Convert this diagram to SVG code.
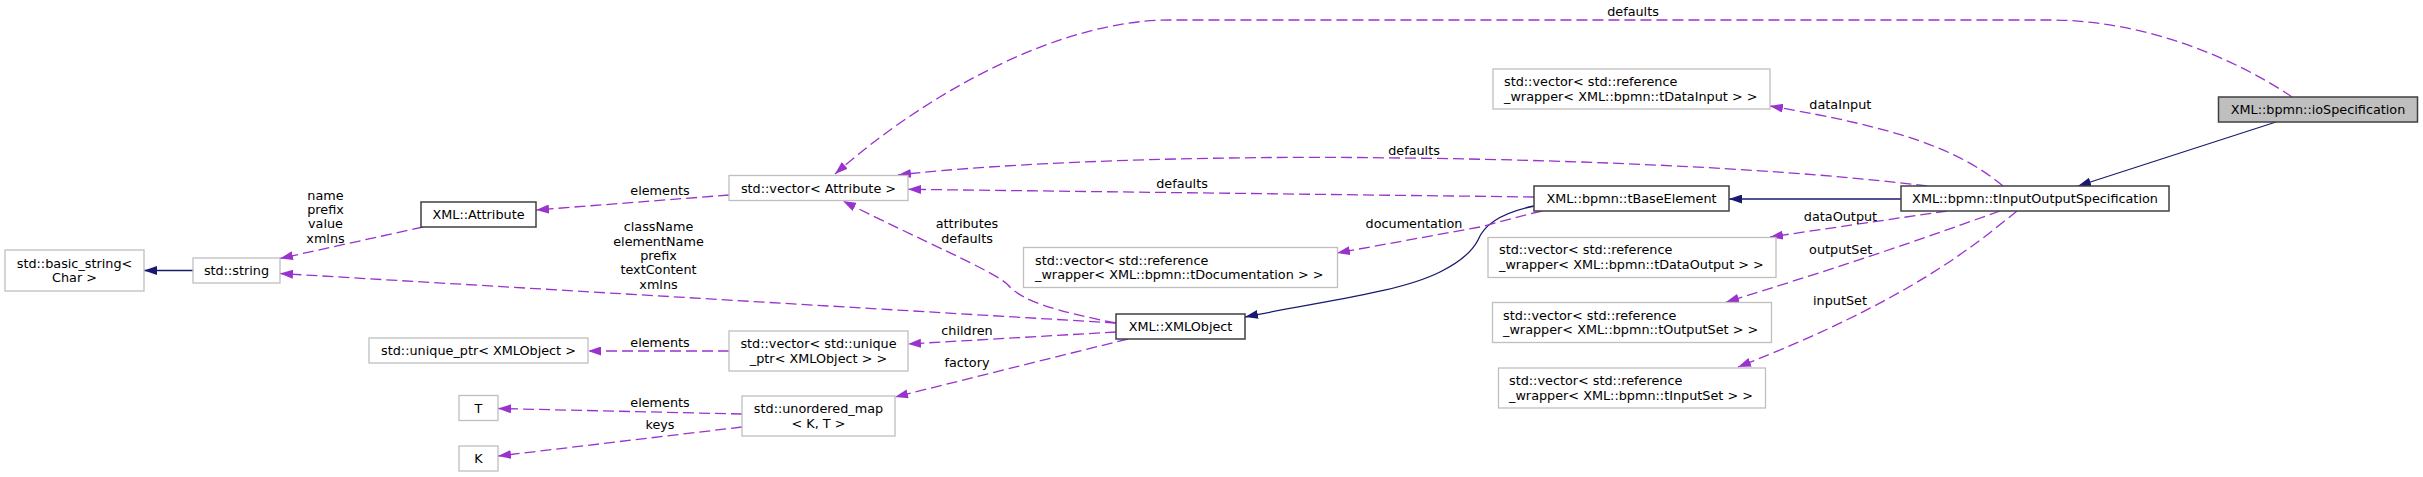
<svg xmlns="http://www.w3.org/2000/svg" width="2423" height="477" viewBox="0 0 2423 477">
<defs>
<marker id="ap" markerUnits="userSpaceOnUse" viewBox="0 0 13 9" refX="13" refY="4.5" markerWidth="13" markerHeight="9" orient="auto"><path d="M0,0 L13,4.5 L0,9 z" fill="#9a32cd"/></marker>
<marker id="an" markerUnits="userSpaceOnUse" viewBox="0 0 13 9" refX="13" refY="4.5" markerWidth="13" markerHeight="9" orient="auto"><path d="M0,0 L13,4.5 L0,9 z" fill="#191970"/></marker>
</defs>
<style>
text{font-family:"DejaVu Sans","Liberation Sans",sans-serif;font-size:12.8px;fill:#000;dominant-baseline:central;text-anchor:middle}
text.l{text-anchor:start}
.g{fill:#fff;stroke:#bfbfbf;stroke-width:1.3}
.b{fill:#fff;stroke:#404040;stroke-width:1.5}
.io{fill:#bfbfbf;stroke:#404040;stroke-width:1.5}
.e{fill:none;stroke:#9a32cd;stroke-width:1.3;stroke-dasharray:11,5;marker-end:url(#ap)}
.n{fill:none;stroke:#191970;stroke-width:1.3;marker-end:url(#an)}
</style>
<rect width="2423" height="477" fill="#fff"/>
<g id="edges">
<path class="n" d="M193,270.5 L144,270.5"/>
<path class="e" d="M423,227 L280,258.5"/>
<text x="325.5" y="195">name</text><text x="325.5" y="209.3">prefix</text><text x="325.5" y="223.6">value</text><text x="325.5" y="238">xmlns</text>
<path class="e" d="M1116,323 L280,273.5"/>
<text x="658.5" y="226.7">className</text><text x="658.5" y="241">elementName</text><text x="658.5" y="255.3">prefix</text><text x="658.5" y="269.8">textContent</text><text x="658.5" y="284.3">xmlns</text>
<path class="e" d="M1116,323 C1055,311 1022,301 1008,285 C996,272 920,240 843,201"/>
<text x="967" y="223.3">attributes</text><text x="967" y="238">defaults</text>
<path class="e" d="M1116,332 L908,344"/>
<text x="967" y="330">children</text>
<path class="e" d="M1128,339 L895,397"/>
<text x="967" y="362.3">factory</text>
<path class="e" d="M729,351 L588,351"/>
<text x="660" y="342.7">elements</text>
<path class="e" d="M742,414 L498,408.5"/>
<text x="660" y="402.7">elements</text>
<path class="e" d="M742,427 L498,456"/>
<text x="660" y="424">keys</text>
<path class="e" d="M729,195 L536,210"/>
<text x="660" y="190.7">elements</text>
<path class="n" d="M1534,206 C1505,212 1485,222 1478,240 C1472,252 1460,262 1440,272 C1400,292 1330,300 1245,317"/>
<path class="e" d="M1542,211 C1520,216 1500,222 1480,227 L1337,253"/>
<text x="1414" y="223.7">documentation</text>
<path class="e" d="M1534,197 L908,189.3"/>
<text x="1182" y="183.3">defaults</text>
<path class="e" d="M1927,186 C1800,170 1600,160 1400,158 C1200,155 1000,163 898,175"/>
<text x="1414" y="150.7">defaults</text>
<path class="e" d="M2292,97 C2230,55 2140,20 2050,20 L1170,20 C1060,20 928,92 835,174"/>
<text x="1633" y="11.7">defaults</text>
<path class="e" d="M2003,186 C1960,150 1900,128 1770,106"/>
<text x="1840.3" y="104">dataInput</text>
<path class="e" d="M1947,211 L1770,237"/>
<text x="1840.5" y="216">dataOutput</text>
<path class="e" d="M2000,211 C1960,225 1880,255 1726,302"/>
<text x="1840.7" y="249">outputSet</text>
<path class="e" d="M2017,211 C1975,245 1910,300 1738,367"/>
<text x="1840" y="300.7">inputSet</text>
<path class="n" d="M1901,199 L1729,199"/>
<path class="n" d="M2276,122 L2078,186"/>
</g>
<g id="n_basic"><rect class="g" x="5" y="250" width="139" height="41"/><text x="74.5" y="263">std::basic_string&lt;</text><text x="74.5" y="277.5">Char &gt;</text></g>
<g id="n_string"><rect class="g" x="193" y="258" width="87" height="25"/><text x="236.5" y="270.5">std::string</text></g>
<g id="n_attr"><rect class="b" x="421" y="202" width="115" height="25"/><text x="478.5" y="214.5">XML::Attribute</text></g>
<g id="n_vattr"><rect class="g" x="729" y="175.5" width="179" height="25"/><text x="818.5" y="188">std::vector&lt; Attribute &gt;</text></g>
<g id="n_uptr"><rect class="g" x="369" y="338" width="219" height="25"/><text x="478.5" y="350.5">std::unique_ptr&lt; XMLObject &gt;</text></g>
<g id="n_vuptr"><rect class="g" x="729" y="331" width="179" height="40"/><text x="818.5" y="343.5">std::vector&lt; std::unique</text><text x="818.5" y="358">_ptr&lt; XMLObject &gt; &gt;</text></g>
<g id="n_T"><rect class="g" x="459" y="395.5" width="39" height="25"/><text x="478.5" y="408">T</text></g>
<g id="n_K"><rect class="g" x="459" y="446" width="39" height="25"/><text x="478.5" y="458.5">K</text></g>
<g id="n_umap"><rect class="g" x="742" y="396" width="153" height="40"/><text x="818.5" y="408.5">std::unordered_map</text><text x="818.5" y="423">&lt; K, T &gt;</text></g>
<g id="n_xmlobj"><rect class="b" x="1116" y="314" width="129" height="25"/><text x="1180.5" y="326.5">XML::XMLObject</text></g>
<g id="n_vdoc"><rect class="g" x="1023.5" y="247.5" width="314" height="40"/><text class="l" x="1035" y="260">std::vector&lt; std::reference</text><text class="l" x="1035" y="274.5">_wrapper&lt; XML::bpmn::tDocumentation &gt; &gt;</text></g>
<g id="n_base"><rect class="b" x="1534" y="186" width="195" height="25"/><text x="1631.5" y="198.5">XML::bpmn::tBaseElement</text></g>
<g id="n_vdin"><rect class="g" x="1493" y="69" width="277" height="40"/><text class="l" x="1504" y="81.5">std::vector&lt; std::reference</text><text class="l" x="1504" y="96">_wrapper&lt; XML::bpmn::tDataInput &gt; &gt;</text></g>
<g id="n_vdout"><rect class="g" x="1488" y="237.5" width="288" height="40"/><text class="l" x="1499" y="249.5">std::vector&lt; std::reference</text><text class="l" x="1499" y="264.5">_wrapper&lt; XML::bpmn::tDataOutput &gt; &gt;</text></g>
<g id="n_vos"><rect class="g" x="1492.5" y="302.5" width="279" height="40"/><text class="l" x="1503" y="315">std::vector&lt; std::reference</text><text class="l" x="1503" y="329.5">_wrapper&lt; XML::bpmn::tOutputSet &gt; &gt;</text></g>
<g id="n_vis"><rect class="g" x="1498.5" y="368" width="267" height="40"/><text class="l" x="1509" y="380.5">std::vector&lt; std::reference</text><text class="l" x="1509" y="395">_wrapper&lt; XML::bpmn::tInputSet &gt; &gt;</text></g>
<g id="n_tios"><rect class="b" x="1901" y="186" width="268" height="25"/><text x="2035" y="198.5">XML::bpmn::tInputOutputSpecification</text></g>
<g id="n_io"><rect class="io" x="2218.5" y="97" width="199" height="25"/><text x="2318" y="109.5">XML::bpmn::ioSpecification</text></g>
</svg>
